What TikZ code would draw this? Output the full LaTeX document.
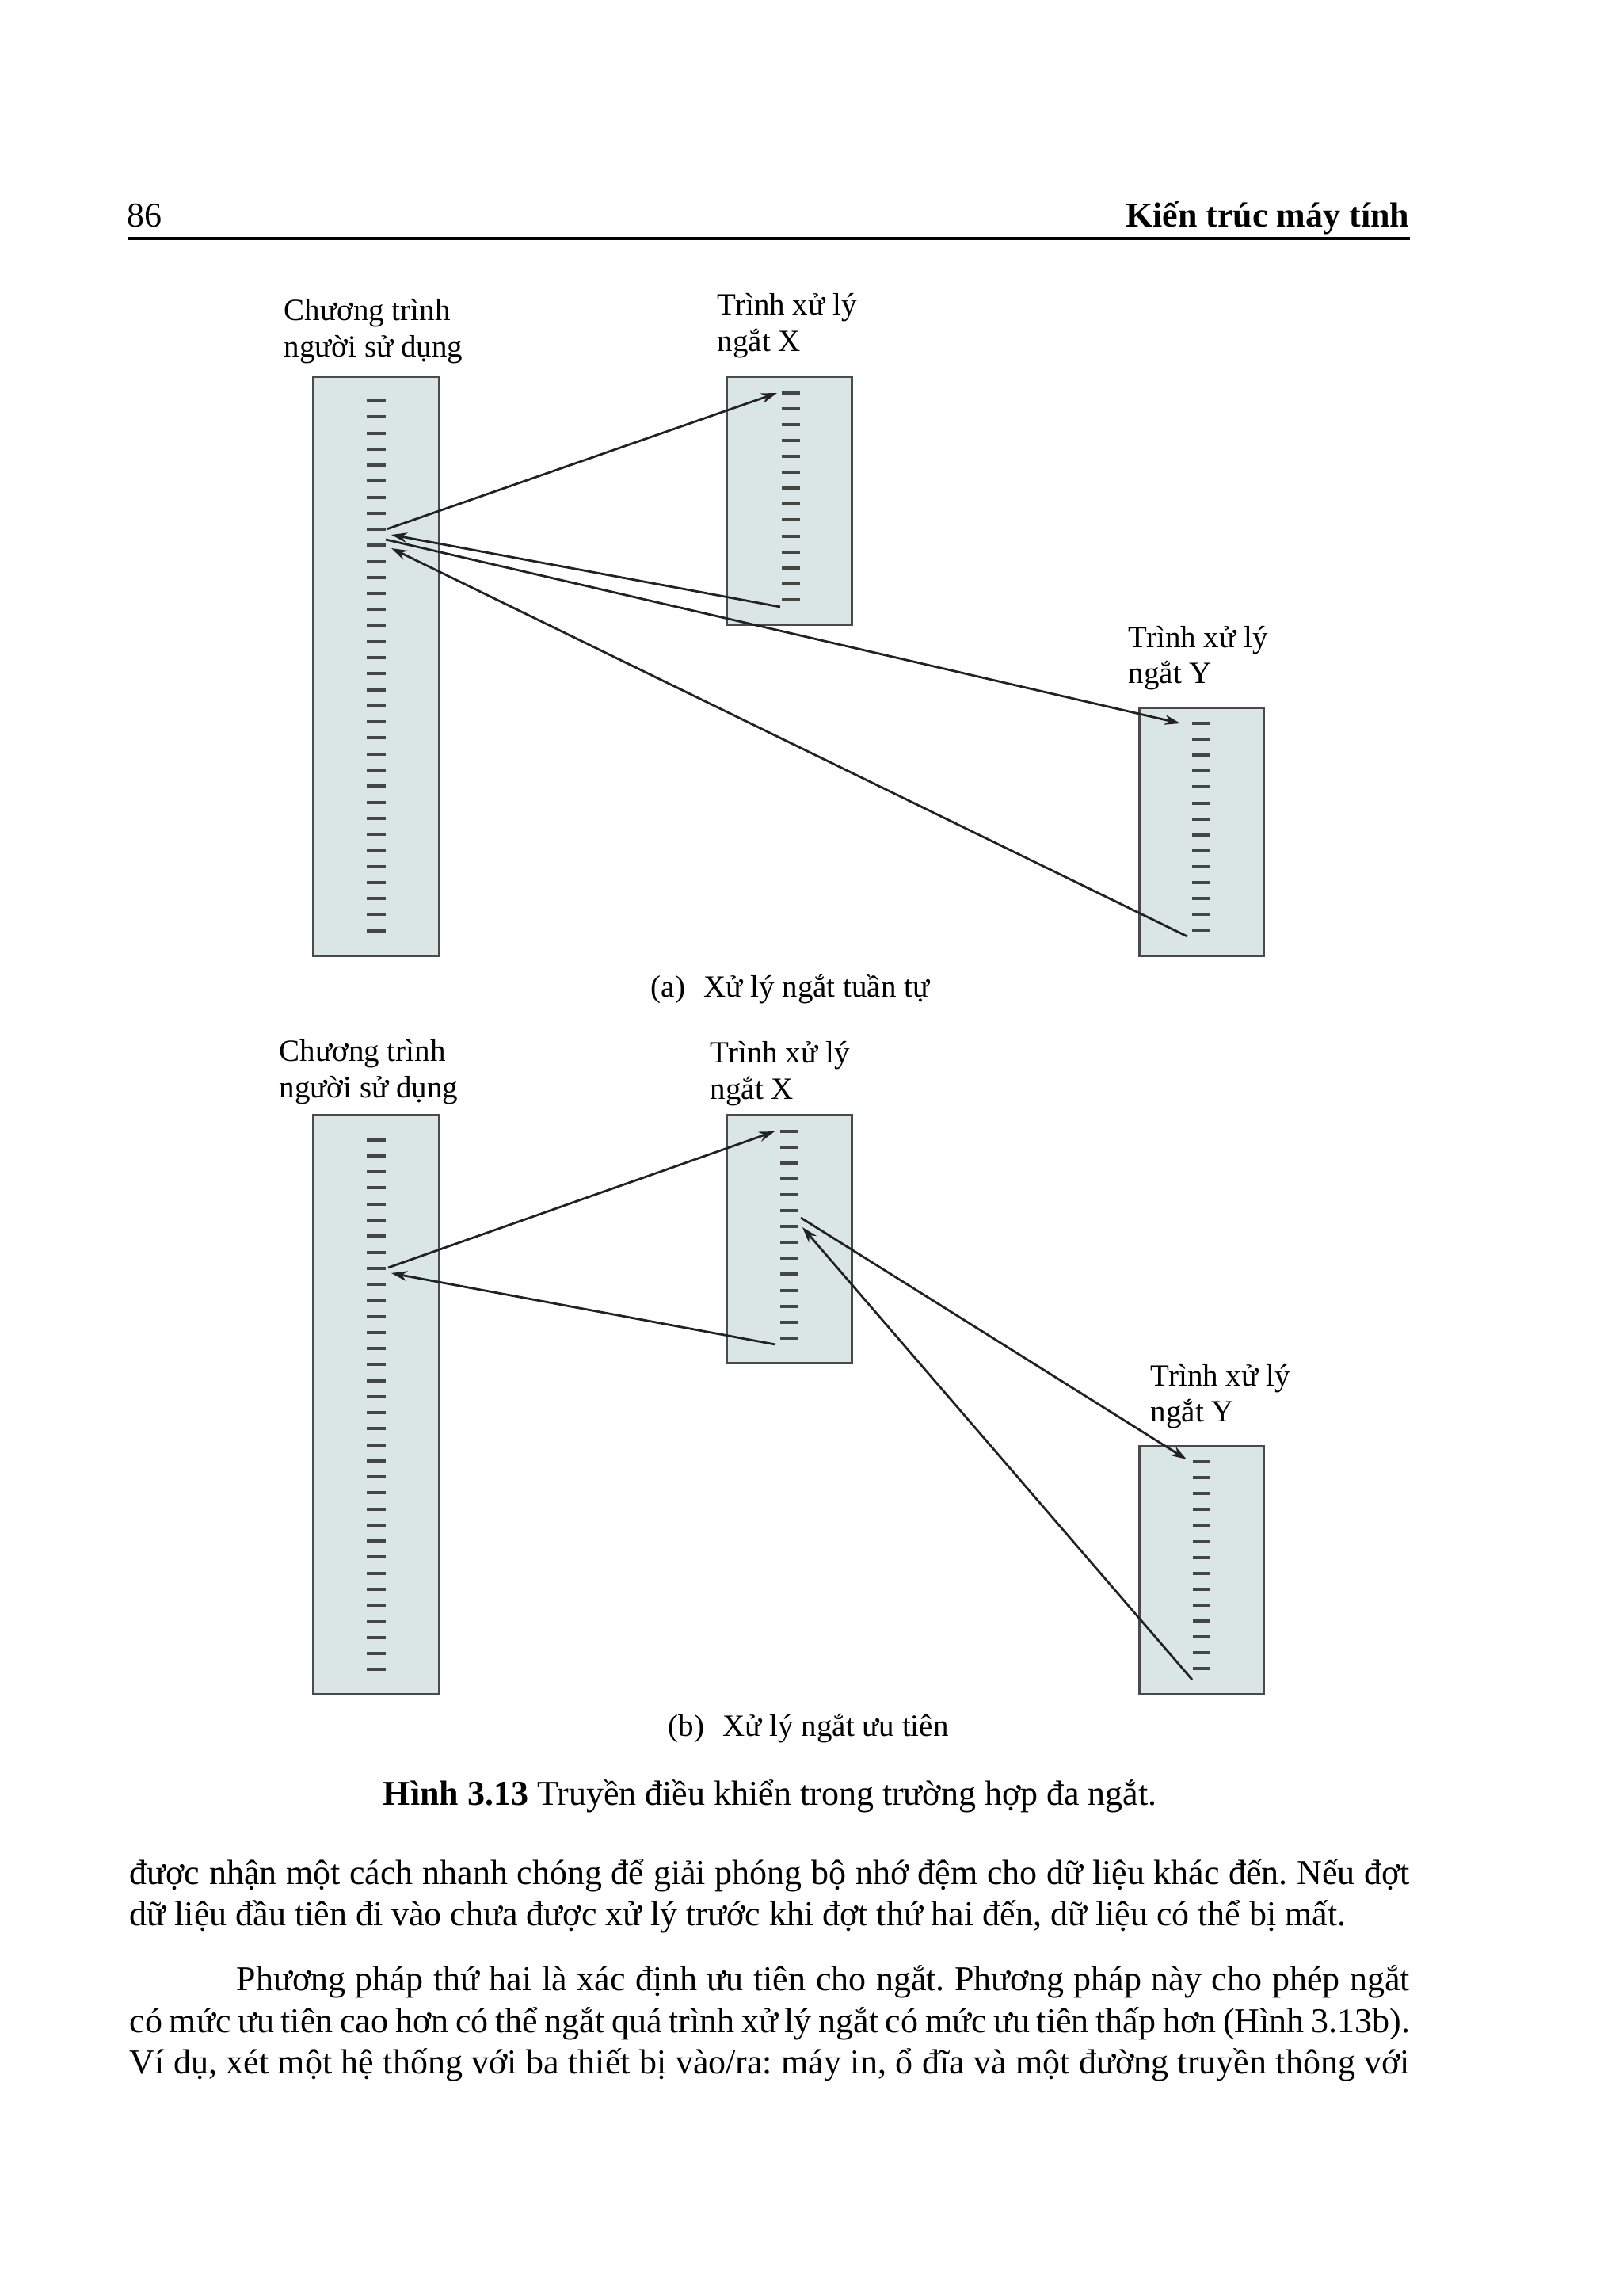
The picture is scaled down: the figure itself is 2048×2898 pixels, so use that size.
\documentclass[tikz,border=0pt]{standalone}
\usepackage{fontspec}
\setmainfont{Liberation Serif}
\usetikzlibrary{arrows.meta}
\definecolor{boxfill}{HTML}{DAE6E5}
\definecolor{boxline}{HTML}{4A4A4A}
\definecolor{dashcol}{HTML}{454545}
\definecolor{arrcol}{HTML}{222222}
\frenchspacing
\begin{document}
\begin{tikzpicture}[x=0.25pt,y=-0.25pt,
  progbox/.style={draw=boxline, fill=boxfill, line width=0.75pt, inner sep=0pt, outer sep=0pt, anchor=north west},
  dashmark/.style={draw=dashcol, line width=1pt},
  ctrl/.style={draw=arrcol, line width=0.7pt, -{Stealth[length=5pt,width=3.2pt]}},
  figlbl/.style={anchor=base west, inner sep=0pt, font=\fontsize{9.75pt}{11.5pt}\selectfont},
  bodyline/.style={anchor=base west, inner sep=0pt, font=\fontsize{11pt}{13pt}\selectfont},
]
\useasboundingbox (0,0) rectangle (2048,2898);
\fill[white] (0,0) rectangle (2048,2898);

% ---------- page header ----------
\node[bodyline] (pgnum) at (160,287) {86};
\node[bodyline, anchor=base east] (runhead) at (1780,287) {\bfseries Kiến trúc máy tính};
\draw[line width=1.2pt] (162,301) -- (1780,301);

% ---------- (a) sequential ----------
\node[progbox, minimum width=39.75pt, minimum height=182.5pt] (Ua) at (395,476) {};
\node[progbox, minimum width=39.5pt, minimum height=78pt] (Xa) at (917,476) {};
\node[progbox, minimum width=39.25pt, minimum height=78.25pt] (Ya) at (1438,893) {};
\foreach \i in {0,...,33} \draw[dashmark] (463,{506+\i*20.26}) -- (487,{506+\i*20.26});
\foreach \i in {0,...,13} \draw[dashmark] (987,{495.7+\i*20.1}) -- (1010,{495.7+\i*20.1});
\foreach \i in {0,...,13} \draw[dashmark] (1505,{913+\i*20.1}) -- (1527,{913+\i*20.1});

\node[figlbl] (Ua1) at (358,405) {Chương trình};
\node[figlbl] (Ua2) at (358,451) {người sử dụng};
\node[figlbl] (Xa1) at (905,398) {Trình xử lý};
\node[figlbl] (Xa2) at (905,444) {ngắt X};
\node[figlbl] (Ya1) at (1424,817) {Trình xử lý};
\node[figlbl] (Ya2) at (1424,862) {ngắt Y};
\node[figlbl] (capa) at (821,1258) {(a)\hspace{0.6em}Xử lý ngắt tuần tự};

\coordinate (a1s) at (488,668);  \coordinate (a1e) at (981,496);
\coordinate (a2s) at (985,766);  \coordinate (a2e) at (494,675);
\coordinate (a3s) at (487,681);  \coordinate (a3e) at (1490,913);
\coordinate (a4s) at (1499,1182); \coordinate (a4e) at (494,692);
\draw[ctrl] (a1s) -- (a1e);
\draw[ctrl] (a2s) -- (a2e);
\draw[ctrl] (a3s) -- (a3e);
\draw[ctrl] (a4s) -- (a4e);

% ---------- (b) priority ----------
\node[progbox, minimum width=39.75pt, minimum height=182.75pt] (Ub) at (395,1407) {};
\node[progbox, minimum width=39.5pt, minimum height=78.25pt] (Xb) at (917,1407) {};
\node[progbox, minimum width=39.25pt, minimum height=78.25pt] (Yb) at (1438,1825) {};
\foreach \i in {0,...,33} \draw[dashmark] (463,{1438.7+\i*20.26}) -- (487,{1438.7+\i*20.26});
\foreach \i in {0,...,13} \draw[dashmark] (985,{1427.5+\i*20.1}) -- (1008,{1427.5+\i*20.1});
\foreach \i in {0,...,13} \draw[dashmark] (1506,{1845+\i*20.1}) -- (1528,{1845+\i*20.1});

\node[figlbl] (Ub1) at (352,1339) {Chương trình};
\node[figlbl] (Ub2) at (352,1385) {người sử dụng};
\node[figlbl] (Xb1) at (896,1341) {Trình xử lý};
\node[figlbl] (Xb2) at (896,1387) {ngắt X};
\node[figlbl] (Yb1) at (1452,1749) {Trình xử lý};
\node[figlbl] (Yb2) at (1452,1794) {ngắt Y};
\node[figlbl] (capb) at (843,2191) {(b)\hspace{0.6em}Xử lý ngắt ưu tiên};

\coordinate (b1s) at (490,1600);  \coordinate (b1e) at (978,1428);
\coordinate (b2s) at (979,1697);  \coordinate (b2e) at (494,1607);
\coordinate (b3s) at (1011,1537); \coordinate (b3e) at (1498,1842);
\coordinate (b4s) at (1505,2120); \coordinate (b4e) at (1013,1549);
\draw[ctrl] (b1s) -- (b1e);
\draw[ctrl] (b2s) -- (b2e);
\draw[ctrl] (b3s) -- (b3e);
\draw[ctrl] (b4s) -- (b4e);

% ---------- figure caption ----------
\node[bodyline] (figcap) at (483,2278) {\textbf{Hình 3.13} Truyền điều khiển trong trường hợp đa ngắt.};

% ---------- body text ----------
\node[bodyline] (l1) at (163,2378) {\makebox[404pt][s]{được nhận một cách nhanh chóng để giải phóng bộ nhớ đệm cho dữ liệu khác đến. Nếu đợt}};
\node[bodyline] (l2) at (163,2430) {dữ liệu đầu tiên đi vào chưa được xử lý trước khi đợt thứ hai đến, dữ liệu có thể bị mất.};
\node[bodyline] (l3) at (298,2512) {\makebox[370.25pt][s]{Phương pháp thứ hai là xác định ưu tiên cho ngắt. Phương pháp này cho phép ngắt}};
\node[bodyline] (l4) at (163,2565) {\makebox[404pt][s]{có mức ưu tiên cao hơn có thể ngắt quá trình xử lý ngắt có mức ưu tiên thấp hơn (Hình 3.13b).}};
\node[bodyline] (l5) at (163,2617) {\makebox[404pt][s]{Ví dụ, xét một hệ thống với ba thiết bị vào/ra: máy in, ổ đĩa và một đường truyền thông với}};
\end{tikzpicture}
\end{document}
